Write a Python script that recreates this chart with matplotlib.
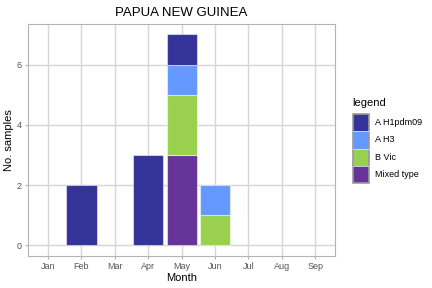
import numpy as np
import matplotlib.pyplot as plt
from matplotlib.patches import Rectangle

# data
months = ['Jan', 'Feb', 'Mar', 'Apr', 'May', 'Jun', 'Jul', 'Aug', 'Sep']
mixed = [0, 0, 0, 0, 3, 0, 0, 0, 0]
b_vic = [0, 0, 0, 0, 2, 1, 0, 0, 0]
a_h3 = [0, 0, 0, 0, 1, 1, 0, 0, 0]
a_h1 = [0, 2, 0, 3, 1, 0, 0, 0, 0]

series = [('Mixed type', mixed, '#663399'),
          ('B Vic', b_vic, '#99D14F'),
          ('A H3', a_h3, '#6699FF'),
          ('A H1pdm09', a_h1, '#333399')]

plt.rcParams['font.family'] = 'Liberation Sans'

fig = plt.figure(figsize=(4.32, 2.88), dpi=100)
ax = fig.add_axes([0.065, 0.111, 0.711, 0.806])

x = np.arange(1, len(months) + 1)
bottom = np.zeros(len(months))
for name, vals, col in series:
    vals = np.array(vals, dtype=float)
    keep = vals > 0
    ax.bar(x[keep], vals[keep], width=0.9, bottom=bottom[keep], color=col,
           edgecolor=(1, 1, 1, 0.5), linewidth=0.8, zorder=3)
    bottom += vals

ax.set_xlim(0.4, 9.6)
ax.set_ylim(-0.35, 7.35)
ax.set_xticks(x)
ax.set_xticklabels(months)
ax.set_yticks([0, 2, 4, 6])
ax.grid(True, color='#d6d6d6', linewidth=1.0, zorder=0)
for s in ax.spines.values():
    s.set_color('#b3b3b3')
    s.set_linewidth(0.8)
ax.tick_params(colors='#b3b3b3', labelcolor='#555555', labelsize=6.5, length=2.5, width=0.8, pad=2)

ax.set_title('PAPUA NEW GUINEA', fontsize=9.5, pad=6)
ax.set_xlabel('Month', fontsize=8)
ax.set_ylabel('No. samples', fontsize=8)
ax.xaxis.set_label_coords(0.5, -0.072)
ax.yaxis.set_label_coords(-0.045, 0.5)

# legend drawn by hand, ggplot style
lax = fig.add_axes([0, 0, 1, 1], facecolor='none')
lax.set_xlim(0, 432)
lax.set_ylim(288, 0)
lax.axis('off')
lax.text(352, 103, 'legend', fontsize=8, va='center', ha='left')
key_top = 114
key_h = 17.3
for i, (name, vals, col) in enumerate(series[::-1]):
    y0 = key_top + i * key_h
    lax.add_patch(Rectangle((353, y0), 16, key_h, facecolor=col,
                            edgecolor='none'))
    lax.text(375, y0 + key_h / 2, name, fontsize=6.5, va='center', ha='left')
lax.add_patch(Rectangle((353, key_top), 16, key_h * 4, facecolor='none',
                        edgecolor='#999999', linewidth=1.2))
for i in range(1, 4):
    lax.plot([353, 369], [key_top + i * key_h] * 2, color='#dddddd', linewidth=0.6)

fig.savefig('out.png', dpi=100)
